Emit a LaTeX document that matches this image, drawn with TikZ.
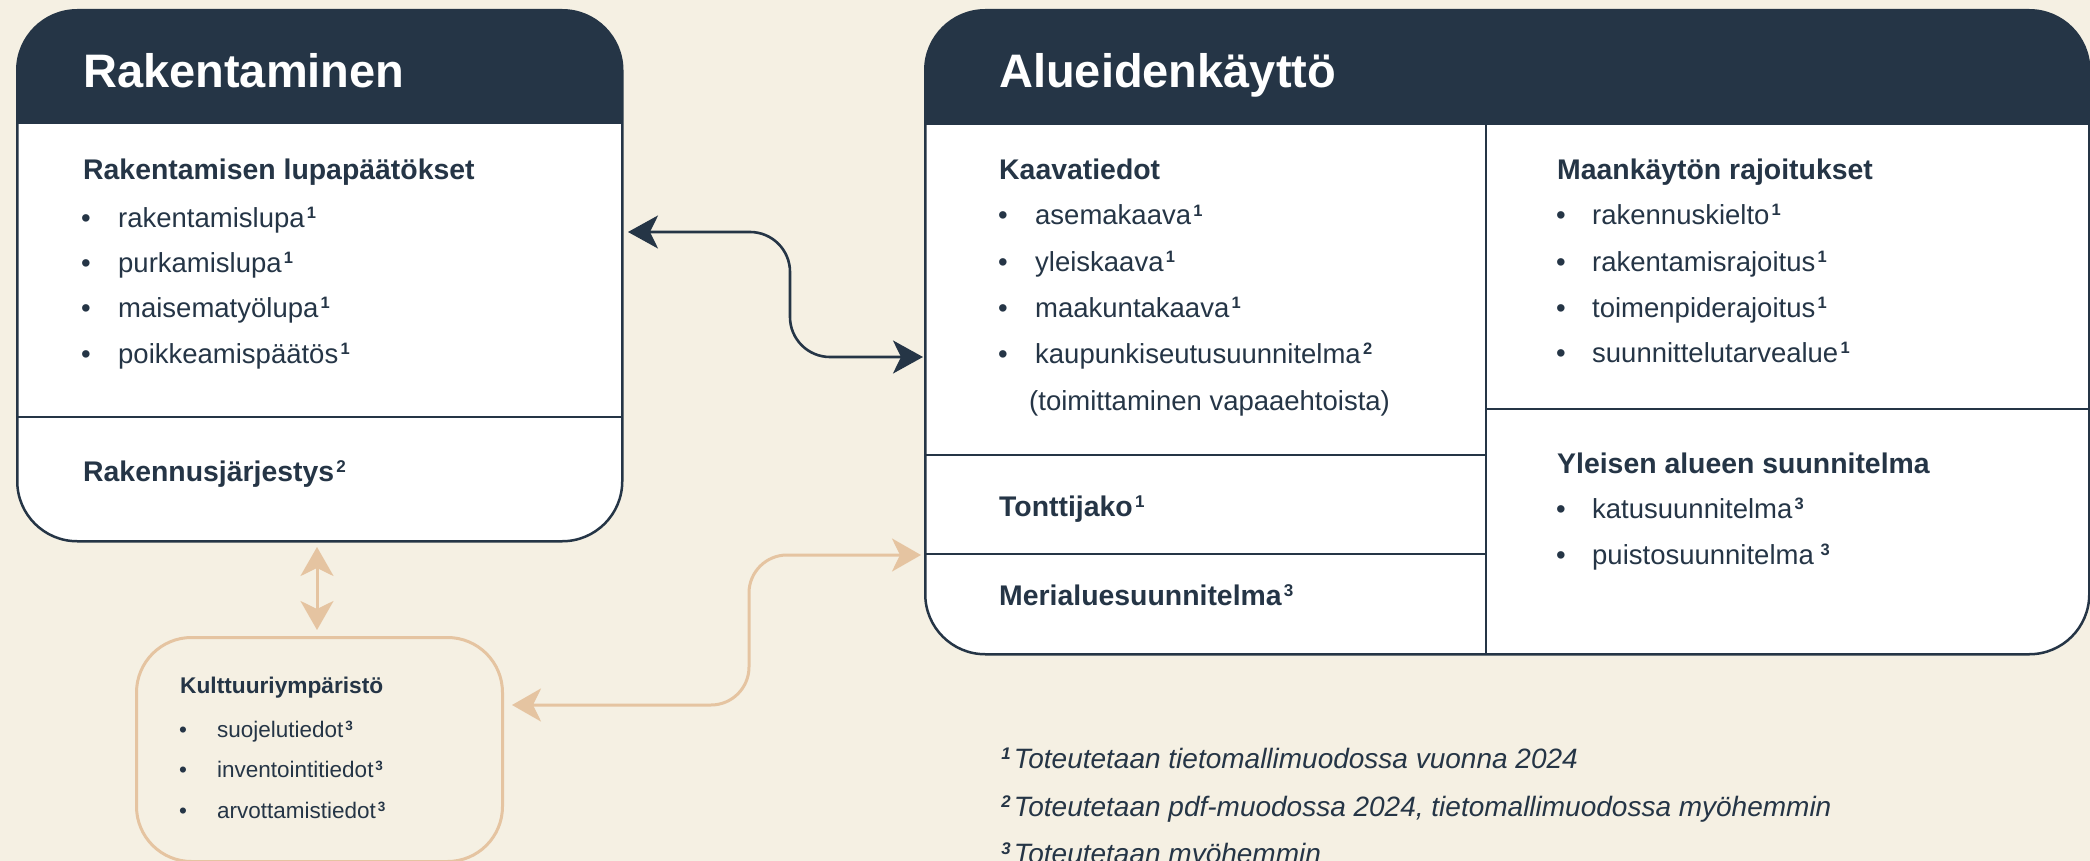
\documentclass[tikz,border=0pt]{standalone}
\usepackage{fontspec}
\usepackage{graphicx}
\setmainfont{Liberation Sans}
\usetikzlibrary{arrows.meta}
\definecolor{navy}{HTML}{253546}
\definecolor{bgc}{HTML}{F5F0E3}
\definecolor{tanc}{HTML}{E5C4A1}
\newcommand\fnm[2][0.6]{\kern0.08em\raisebox{0.3em}{\scalebox{#1}{\bfseries #2}}}
\newcommand\bul[1]{\makebox[#1][l]{\textbullet}}
\begin{document}
\begin{tikzpicture}[x=1pt,y=-1pt,
  boxnode/.style={draw=navy, line width=2.5pt, rounded corners=60pt, fill=white, inner sep=0pt, anchor=north west},
  divline/.style={draw=navy, line width=1.8pt},
  ttl/.style={anchor=base west, inner sep=0pt, text=white, font=\fontsize{47}{56}\selectfont\bfseries},
  hd/.style={anchor=base west, inner sep=0pt, text=navy, font=\fontsize{28.4}{34}\selectfont\bfseries},
  itm/.style={anchor=base west, inner sep=0pt, text=navy, font=\fontsize{27.5}{33}\selectfont},
  khd/.style={anchor=base west, inner sep=0pt, text=navy, font=\fontsize{22.7}{27}\selectfont\bfseries},
  kitm/.style={anchor=base west, inner sep=0pt, text=navy, font=\fontsize{22.5}{27}\selectfont},
  ft/.style={anchor=base west, inner sep=0pt, text=navy, font=\fontsize{28}{34}\selectfont\itshape},
  darrow/.style={draw=navy, line width=2.6pt, {Stealth[length=30pt,width=33pt,inset=8pt]}-{Stealth[length=30pt,width=33pt,inset=8pt]}},
  tarrow/.style={draw=tanc, line width=3pt, {Stealth[length=29pt,width=33pt,inset=8pt]}-{Stealth[length=29pt,width=33pt,inset=8pt]}}
]
\useasboundingbox (0,0) rectangle (2090,861);
\fill[bgc] (0,0) rectangle (2090,861);

% Rakentaminen box
\node[boxnode, minimum width=605pt, minimum height=531pt,
  path picture={\fill[navy, sharp corners] (path picture bounding box.north west) rectangle ([yshift=-114pt]path picture bounding box.north east);}]
  (rak) at (16,9) {};
\draw[divline] (16,417) -- (621,417);
\node[ttl] (rakT) at (83,88) {Rakentaminen};
\node[hd] (rakH) at (83,180) {Rakentamisen lupapäätökset};
\node[itm] (r1) at (81,227) {\bul{37pt}rakentamislupa\fnm{1}};
\node[itm] (r2) at (81,272) {\bul{37pt}purkamislupa\fnm{1}};
\node[itm] (r3) at (81,317) {\bul{37pt}maisematyölupa\fnm{1}};
\node[itm] (r4) at (81,363) {\bul{37pt}poikkeamispäätös\fnm{1}};
\node[hd] (rakJ) at (83,481) {Rakennusjärjestys\fnm{2}};

% Alueidenkaytto box
\node[boxnode, minimum width=1164pt, minimum height=644pt,
  path picture={\fill[navy, sharp corners] (path picture bounding box.north west) rectangle ([yshift=-115pt]path picture bounding box.north east);}]
  (alu) at (924,9) {};
\draw[divline] (1486,124) -- (1486,653);
\draw[divline] (924,455) -- (1486,455);
\draw[divline] (924,554) -- (1486,554);
\draw[divline] (1486,409) -- (2088,409);
\node[ttl] (aluT) at (999,88) {Alueidenkäyttö};
\node[hd] (kaH) at (999,180) {Kaavatiedot};
\node[itm] (k1) at (998,225) {\bul{37pt}asemakaava\fnm{1}};
\node[itm] (k2) at (998,271) {\bul{37pt}yleiskaava\fnm{1}};
\node[itm] (k3) at (998,317) {\bul{37pt}maakuntakaava\fnm{1}};
\node[itm] (k4) at (998,363) {\bul{37pt}kaupunkiseutusuunnitelma\fnm{2}};
\node[itm] (k5) at (1029,410) {(toimittaminen vapaaehtoista)};
\node[hd] (ton) at (999,516) {Tonttijako\fnm{1}};
\node[hd] (mer) at (999,605) {Merialuesuunnitelma\fnm{3}};
\node[hd] (maH) at (1557,180) {Maankäytön rajoitukset};
\node[itm] (m1) at (1556,224) {\bul{36pt}rakennuskielto\fnm{1}};
\node[itm] (m2) at (1556,271) {\bul{36pt}rakentamisrajoitus\fnm{1}};
\node[itm] (m3) at (1556,317) {\bul{36pt}toimenpiderajoitus\fnm{1}};
\node[itm] (m4) at (1556,362) {\bul{36pt}suunnittelutarvealue\fnm{1}};
\node[hd] (yaH) at (1557,473) {Yleisen alueen suunnitelma};
\node[itm] (y1) at (1556,518) {\bul{36pt}katusuunnitelma\fnm{3}};
\node[itm] (y2) at (1556,564) {\bul{36pt}puistosuunnitelma\,\fnm{3}};

% Kulttuuriymparisto box
\node[draw=tanc, line width=3pt, rounded corners=55pt, fill=bgc, inner sep=0pt, anchor=north west,
  minimum width=366pt, minimum height=224pt] (kul) at (135,636) {};
\node[khd] (kuH) at (180,693) {Kulttuuriympäristö};
\node[kitm] (ku1) at (179,737) {\bul{38pt}suojelutiedot\fnm{3}};
\node[kitm] (ku2) at (179,777) {\bul{38pt}inventointitiedot\fnm{3}};
\node[kitm] (ku3) at (179,818) {\bul{38pt}arvottamistiedot\fnm{3}};

% Connectors
\coordinate (a1) at (628,232);
\coordinate (a2) at (923,357);
\draw[darrow, rounded corners=40pt] (a1) -- (790,232) -- (790,357) -- (a2);
\coordinate (t1) at (317,547);
\coordinate (t2) at (317,630);
\draw[tarrow] (t1) -- (t2);
\coordinate (b1) at (512,705);
\coordinate (b2) at (921,555);
\draw[tarrow, rounded corners=38pt] (b1) -- (749,705) -- (749,555) -- (b2);

% Footnotes
\node[ft] (f1) at (999,768) {\fnm[0.6]{1}\kern3pt Toteutetaan tietomallimuodossa vuonna 2024};
\node[ft] (f2) at (999,816) {\fnm[0.6]{2}\kern3pt Toteutetaan pdf-muodossa 2024, tietomallimuodossa myöhemmin};
\node[ft] (f3) at (999,863) {\fnm[0.6]{3}\kern3pt Toteutetaan myöhemmin};
\end{tikzpicture}
\end{document}
